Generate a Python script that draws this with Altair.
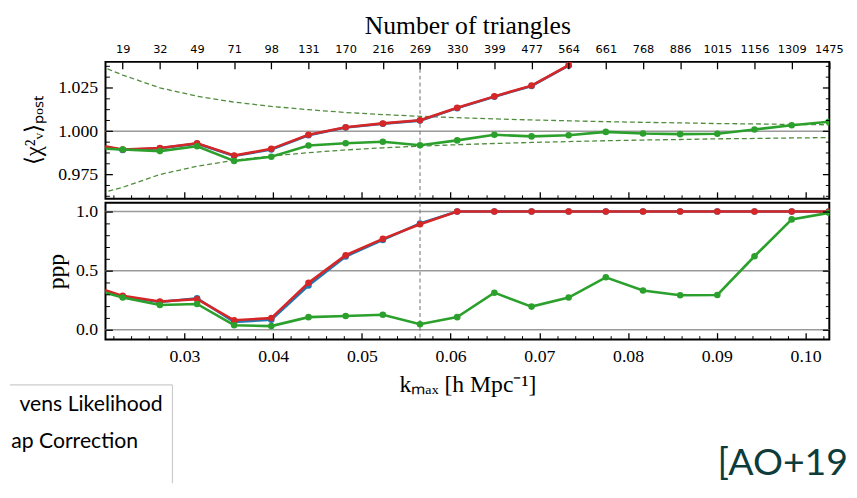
import altair as alt
import pandas as pd

# ---------------- data ----------------
# k_max of every bin; the first bin lies just left of the visible range (clipped)
k_values = [0.01885, 0.02304, 0.02723, 0.03142, 0.03560, 0.03979, 0.04398,
            0.04817, 0.05236, 0.05655, 0.06074, 0.06493, 0.06912, 0.07330,
            0.07749, 0.08168, 0.08587, 0.09006, 0.09425, 0.09844, 0.10263]
n_triangles = ["19", "32", "49", "71", "98", "131", "170", "216", "269", "330",
               "399", "477", "564", "661", "768", "886", "1015", "1156", "1309", "1475"]
k_cut = 0.05655

chi_blue = [0.9931, 0.9892, 0.9901, 0.9928, 0.9857, 0.9895, 0.9976, 1.0021,
            1.0043, 1.0061, 1.0133, 1.0199, 1.0261, 1.0379, 1.0748]
chi_red = [0.9933, 0.9894, 0.9903, 0.9930, 0.9860, 0.9898, 0.9979, 1.0023,
           1.0045, 1.0063, 1.0135, 1.0201, 1.0263, 1.0381, 1.0750]
chi_green = [0.9904, 0.9894, 0.9885, 0.9913, 0.9828, 0.9852, 0.9917, 0.9930,
             0.9939, 0.9919, 0.9947, 0.9979, 0.9970, 0.9977, 0.9996, 0.9987,
             0.9983, 0.9985, 1.0010, 1.0034, 1.0055]
chi_upper = [1.0410, 1.0324, 1.0250, 1.0202, 1.0168, 1.0143, 1.0124, 1.0108,
             1.0096, 1.0086, 1.0078, 1.0071, 1.0065, 1.0060, 1.0055, 1.0051,
             1.0048, 1.0044, 1.0042, 1.0039, 1.0037]
chi_lower = [0.9620, 0.9676, 0.9750, 0.9798, 0.9832, 0.9857, 0.9876, 0.9892,
             0.9904, 0.9914, 0.9922, 0.9929, 0.9935, 0.9940, 0.9945, 0.9949,
             0.9952, 0.9956, 0.9958, 0.9961, 0.9963]

ppp_blue = [0.384, 0.280, 0.235, 0.267, 0.066, 0.085, 0.375, 0.620, 0.760,
            0.900, 1.0, 1.0, 1.0, 1.0, 1.0, 1.0, 1.0, 1.0, 1.0, 1.0, 1.0]
ppp_red = [0.389, 0.287, 0.240, 0.259, 0.080, 0.099, 0.397, 0.631, 0.769,
           0.893, 1.0, 1.0, 1.0, 1.0, 1.0, 1.0, 1.0, 1.0, 1.0, 1.0, 1.0]
ppp_green = [0.359, 0.273, 0.209, 0.218, 0.039, 0.031, 0.107, 0.116, 0.127,
             0.047, 0.107, 0.314, 0.196, 0.273, 0.444, 0.333, 0.292, 0.295,
             0.622, 0.934, 0.989]

k_ticks_major = [0.03, 0.04, 0.05, 0.06, 0.07, 0.08, 0.09, 0.10]
k_ticks_minor = [0.022, 0.024, 0.026, 0.028, 0.032, 0.034, 0.036, 0.038,
                 0.042, 0.044, 0.046, 0.048, 0.052, 0.054, 0.056, 0.058,
                 0.062, 0.064, 0.066, 0.068, 0.072, 0.074, 0.076, 0.078,
                 0.082, 0.084, 0.086, 0.088, 0.092, 0.094, 0.096, 0.098, 0.102]
chi_ticks_major = [0.975, 1.0, 1.025]
chi_ticks_minor = [0.9625, 0.96875, 0.98125, 0.9875, 0.99375, 1.00625,
                   1.0125, 1.01875, 1.03125, 1.0375]
ppp_ticks_major = [0.0, 0.5, 1.0]
ppp_ticks_minor = [0.1, 0.2, 0.3, 0.4, 0.6, 0.7, 0.8, 0.9]
chi_hlines = [1.0]
ppp_hlines = [0.0, 0.5, 1.0]

legend_labels = ["Sellentin-Heavens Likelihood", "Hartlap Correction"]
citation = ["[AO+19]"]

# ---------------- styling ----------------
W, H = 735, 139
BLUE, RED, GREEN, DASH_GREEN = "#1f77b4", "#d62728", "#2ca02c", "#4f8c3c"
SERIF = "Liberation Serif"
ZW = "\u200b"  # zero-width 'ellipsis' so truncated text is simply cut
XS = alt.Scale(domain=[0.0211, 0.10268], nice=False, zero=False)
YS_CHI = alt.Scale(domain=[0.961, 1.040], nice=False, zero=False)
YS_PPP = alt.Scale(domain=[-0.083, 1.075], nice=False, zero=False)


def X(axis=None):
    return alt.X("k:Q", scale=XS, axis=axis)


def Y(ys, axis=None):
    return alt.Y("v:Q", scale=ys, axis=axis)


def series(vals):
    return pd.DataFrame({"k": k_values[:len(vals)], "v": vals})


TICK = dict(domain=False, grid=False, tickColor="black", ticks=True, zindex=1,
            labelFlush=False, labelOverlap=False)


def major(orient, values, labels=False, title=None, **kw):
    return alt.Axis(orient=orient, values=values, tickSize=7, offset=-7,
                    tickWidth=1.3, labels=labels, title=title, **TICK, **kw)


def minor(orient, values):
    return alt.Axis(orient=orient, values=values, tickSize=4, offset=-4,
                    tickWidth=1.0, labels=False, title=None, **TICK)


def data_line(vals, color, ys, width=2.6, points=True, dash=None):
    base = alt.Chart(series(vals))
    kw = dict(color=color, strokeWidth=width, clip=True)
    if dash:
        kw["strokeDash"] = dash
    layers = [base.mark_line(**kw).encode(x=X(), y=Y(ys))]
    if points:
        layers.append(base.mark_circle(color=color, size=44, opacity=1, clip=True)
                      .encode(x=X(), y=Y(ys)))
    return layers


def carrier(ys, xaxis, yaxis):
    df = series(chi_green if ys is YS_CHI else ppp_green)
    return alt.Chart(df).mark_point(opacity=0, clip=True).encode(
        x=X(xaxis), y=Y(ys, yaxis))


def hlines(vals, ys):
    return alt.Chart(pd.DataFrame({"v": vals})).mark_rule(
        color="#9a9a9a", strokeWidth=1.5).encode(y=Y(ys))


vline = alt.Chart(pd.DataFrame({"k": [k_cut]})).mark_rule(
    color="#7a7a7a", strokeWidth=1.1, strokeDash=[4, 3]).encode(x=X())

k_arr = "[" + ",".join(repr(v) for v in k_values[1:]) + "]"
n_arr = "[" + ",".join("'" + n + "'" for n in n_triangles) + "]"
top_label_expr = n_arr + "[indexof(" + k_arr + ", datum.value)]"

serif_labels = dict(labelFont=SERIF, labelFontSize=18, labelColor="black")

# ---------------- top panel ----------------
top_layers = [hlines(chi_hlines, YS_CHI), vline]
top_layers += data_line(chi_upper, DASH_GREEN, YS_CHI, width=1.3, points=False, dash=[5, 3])
top_layers += data_line(chi_lower, DASH_GREEN, YS_CHI, width=1.3, points=False, dash=[5, 3])
top_layers += data_line(chi_blue, BLUE, YS_CHI)
top_layers += data_line(chi_red, RED, YS_CHI)
top_layers += data_line(chi_green, GREEN, YS_CHI)
top_layers += [
    carrier(YS_CHI, major("bottom", k_ticks_major),
            major("left", chi_ticks_major, labels=True, format=".3f",
                  labelPadding=8, title="⟨χ²ᵥ⟩ₚₒₛₜ", titleFont=SERIF,
                  titleFontSize=23, titlePadding=12, **serif_labels)),
    carrier(YS_CHI, minor("bottom", k_ticks_minor), minor("left", chi_ticks_minor)),
    carrier(YS_CHI, major("top", k_values[1:], labels=True, labelExpr=top_label_expr,
                          labelFont="DejaVu Sans", labelFontSize=11.5, labelColor="black",
                          labelPadding=8, title="Number of triangles", titleFont=SERIF,
                          titleFontSize=26, titlePadding=5),
            major("right", chi_ticks_major)),
    carrier(YS_CHI, None, minor("right", chi_ticks_minor)),
]
top = alt.layer(*top_layers).resolve_axis(x="independent", y="independent").properties(
    width=W, height=H)

# ---------------- bottom panel ----------------
bot_layers = [hlines(ppp_hlines, YS_PPP), vline]
bot_layers += data_line(ppp_blue, BLUE, YS_PPP)
bot_layers += data_line(ppp_red, RED, YS_PPP)
bot_layers += data_line(ppp_green, GREEN, YS_PPP)
bot_layers += [
    carrier(YS_PPP, major("bottom", k_ticks_major, labels=True, format=".2f",
                          labelPadding=8, title="kₘₐₓ [h Mpc⁻¹]", titleFont=SERIF,
                          titleFontSize=24, titlePadding=8, **serif_labels),
            major("left", ppp_ticks_major, labels=True, format=".1f", labelPadding=8,
                  title="ppp", titleFont=SERIF, titleFontSize=24, titlePadding=7,
                  **serif_labels)),
    carrier(YS_PPP, minor("bottom", k_ticks_minor), minor("left", ppp_ticks_minor)),
    carrier(YS_PPP, None, major("right", ppp_ticks_major)),
    carrier(YS_PPP, None, minor("right", ppp_ticks_minor)),
]

# legend box (cut by the left edge) and citation (cut by the right edge)
box_top = alt.Chart(pd.DataFrame({"d": [0]})).mark_rule(color="#cccccc", strokeWidth=1.2).encode(
    x=alt.value(-97), x2=alt.value(68), y=alt.value(185))
box_right = alt.Chart(pd.DataFrame({"d": [0]})).mark_rule(color="#cccccc", strokeWidth=1.2).encode(
    x=alt.value(68), y=alt.value(185), y2=alt.value(285))
leg1 = alt.Chart(pd.DataFrame({"t": [legend_labels[0]]})).mark_text(
    align="right", baseline="alphabetic", font="Lato", fontSize=21.5, color="black",
    limit=155, dir="rtl", ellipsis=ZW).encode(x=alt.value(58), y=alt.value(212), text="t:N")
leg2 = alt.Chart(pd.DataFrame({"t": [legend_labels[1]]})).mark_text(
    align="right", baseline="alphabetic", font="Lato", fontSize=21.5, color="black",
    limit=130, dir="rtl", ellipsis=ZW).encode(x=alt.value(33), y=alt.value(249), text="t:N")
cite = alt.Chart(pd.DataFrame({"t": citation})).mark_text(
    align="right", baseline="alphabetic", font="Lato", fontSize=38, color="#0d3c3a",
    limit=140, ellipsis=ZW).encode(x=alt.value(754), y=alt.value(277), text="t:N")
bot_layers += [box_top, box_right, leg1, leg2, cite]

bottom = alt.layer(*bot_layers).resolve_axis(x="independent", y="independent").properties(
    width=W, height=H)

chart = alt.vconcat(top, bottom, spacing=0).properties(
    padding=0, background="white"
).configure_view(stroke="black", strokeWidth=2).configure_axis(
    grid=False, titleFontWeight="normal", titleColor="black", labelColor="black")

chart.save("out.html", embed_options={"renderer": "svg", "actions": False})
